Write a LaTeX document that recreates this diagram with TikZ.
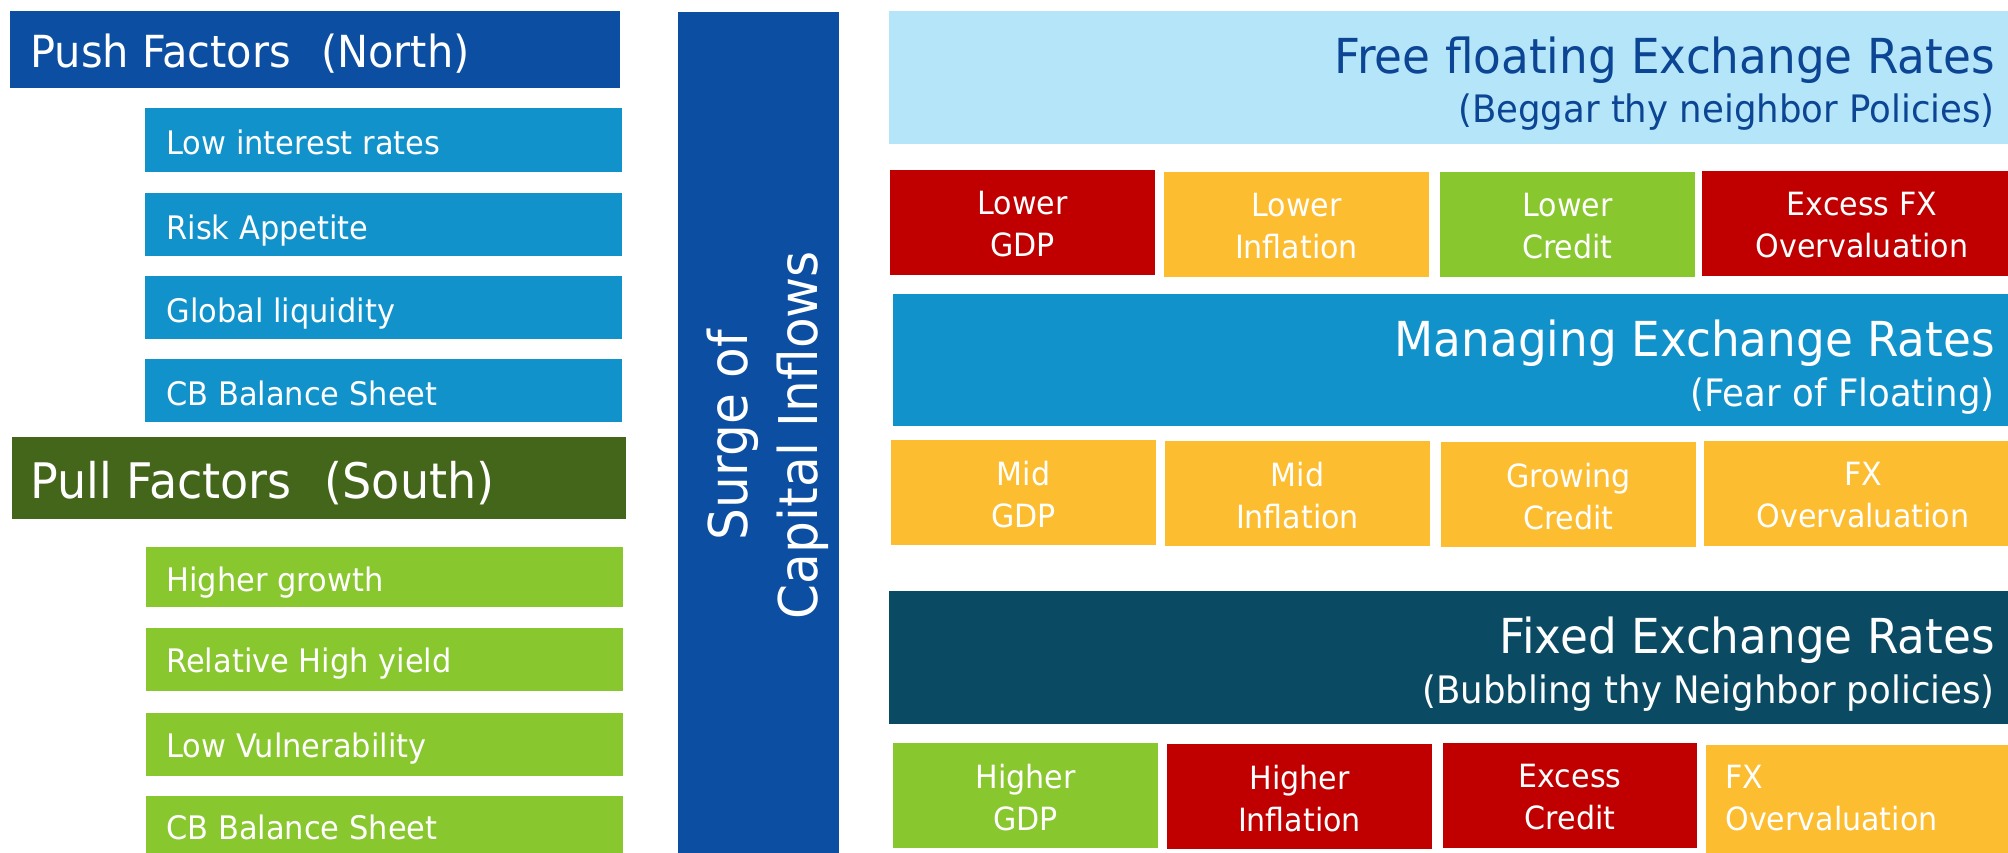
\documentclass[tikz,border=0pt]{standalone}
\usepackage{fontspec}
\setmainfont{DejaVu Sans}[FakeStretch=0.94]
\usetikzlibrary{fit}

\definecolor{cNavy}{HTML}{0B4EA2}
\definecolor{cSky}{HTML}{1192CB}
\definecolor{cOlive}{HTML}{44661A}
\definecolor{cLime}{HTML}{88C72E}
\definecolor{cPale}{HTML}{B5E5F8}
\definecolor{cInk}{HTML}{0B4594}
\definecolor{cTeal}{HTML}{0A4A63}
\definecolor{cRed}{HTML}{C00000}
\definecolor{cAmber}{HTML}{FDBD30}

\tikzset{
  panel/.style={inner sep=0pt, outer sep=0pt, draw=none},
  hdrtxt/.style={anchor=base west, inner sep=0pt, text=white},
  itemtxt/.style={anchor=base west, inner sep=0pt, text=white, font=\fontsize{16.2}{20}\selectfont},
  titletxt/.style={anchor=base east, inner sep=0pt, text=white, font=\fontsize{24.1}{29}\selectfont},
  subtxt/.style={anchor=base east, inner sep=0pt, text=white, font=\fontsize{18.9}{23}\selectfont},
  celltxt/.style={inner sep=0pt, text=white, align=center, font=\fontsize{16}{21}\selectfont},
}

\begin{document}
\begin{tikzpicture}[x=0.5pt, y=-0.5pt]
\clip (0,0) rectangle (2008,852);
\fill[white] (0,0) rectangle (2008,852);

% ---- push factors (north)
\node[panel, fill=cNavy, fit={(10,11) (620,88)}] (push) {};
\node[hdrtxt, font=\fontsize{22.1}{27}\selectfont] (pushT) at (30,67) {Push Factors\hspace{15pt}(North)};
\node[panel, fill=cSky, fit={(145,108) (622,172)}] (lowint) {};
\node[panel, fill=cSky, fit={(145,193) (622,256)}] (risk) {};
\node[panel, fill=cSky, fit={(145,276) (622,339)}] (liq) {};
\node[panel, fill=cSky, fit={(145,359) (622,422)}] (cbn) {};
\node[itemtxt] (lowintT) at (166,154) {Low interest rates};
\node[itemtxt] (riskT) at (166,239) {Risk Appetite};
\node[itemtxt] (liqT) at (166,322) {Global liquidity};
\node[itemtxt] (cbnT) at (166,405) {CB Balance Sheet};

% ---- pull factors (south)
\node[panel, fill=cOlive, fit={(12,437) (626,519)}] (pull) {};
\node[hdrtxt, font=\fontsize{24.5}{29}\selectfont] (pullT) at (30,498) {Pull Factors\hspace{16.5pt}(South)};
\node[panel, fill=cLime, fit={(146,547) (623,607)}] (growth) {};
\node[panel, fill=cLime, fit={(146,628) (623,691)}] (yield) {};
\node[panel, fill=cLime, fit={(146,713) (623,776)}] (vuln) {};
\node[panel, fill=cLime, fit={(146,796) (623,870)}] (cbs) {};
\node[itemtxt] (growthT) at (166,591) {Higher growth};
\node[itemtxt] (yieldT) at (166,672) {Relative High yield};
\node[itemtxt] (vulnT) at (166,757) {Low Vulnerability};
\node[itemtxt] (cbsT) at (166,839) {CB Balance Sheet};

% ---- central bar
\node[panel, fill=cNavy, fit={(678,12) (839,870)}] (surge) {};
\node[inner sep=0pt, text=white, align=center, rotate=90,
      font=\fontsize{26.7}{35}\selectfont] (surgeT) at (768,435) {Surge of\\Capital Inflows};

% ---- free floating regime
\node[panel, fill=cPale, fit={(889,11) (2020,144)}] (free) {};
\node[titletxt, text=cInk] (freeT) at (1995,73) {Free floating Exchange Rates};
\node[subtxt, text=cInk] (freeS) at (1995,122) {(Beggar thy neighbor Policies)};
\node[panel, fill=cRed,   fit={(890,170) (1155,275)}] (gdpA) {};
\node[panel, fill=cAmber, fit={(1164,172) (1429,277)}] (infA) {};
\node[panel, fill=cLime,  fit={(1440,172) (1695,277)}] (crdA) {};
\node[panel, fill=cRed,   fit={(1702,171) (2022,276)}] (fxA) {};
\node[celltxt] (gdpAT) at ([yshift=-1pt]gdpA.center) {Lower\\GDP};
\node[celltxt] (infAT) at ([yshift=-1pt]infA.center) {Lower\\Inflation};
\node[celltxt] (crdAT) at ([yshift=-1pt]crdA.center) {Lower\\Credit};
\node[celltxt] (fxAT) at ([yshift=-1pt]fxA.center) {Excess FX\\Overvaluation};

% ---- managed regime
\node[panel, fill=cSky, fit={(893,294) (2020,426)}] (manage) {};
\node[titletxt] (manageT) at (1995,356) {Managing Exchange Rates};
\node[subtxt] (manageS) at (1995,406) {(Fear of Floating)};
\node[panel, fill=cAmber, fit={(891,440) (1156,545)}] (gdpB) {};
\node[panel, fill=cAmber, fit={(1165,441) (1430,546)}] (infB) {};
\node[panel, fill=cAmber, fit={(1441,442) (1696,547)}] (crdB) {};
\node[panel, fill=cAmber, fit={(1704,441) (2022,546)}] (fxB) {};
\node[celltxt] (gdpBT) at ([yshift=-1pt]gdpB.center) {Mid\\GDP};
\node[celltxt] (infBT) at ([yshift=-1pt]infB.center) {Mid\\Inflation};
\node[celltxt] (crdBT) at ([yshift=-1pt]crdB.center) {Growing\\Credit};
\node[celltxt] (fxBT) at ([yshift=-1pt]fxB.center) {FX\\Overvaluation};

% ---- fixed regime
\node[panel, fill=cTeal, fit={(889,591) (2020,724)}] (fixed) {};
\node[titletxt] (fixedT) at (1995,653) {Fixed Exchange Rates};
\node[subtxt] (fixedS) at (1995,703) {(Bubbling thy Neighbor policies)};
\node[panel, fill=cLime,  fit={(893,743) (1158,848)}] (gdpC) {};
\node[panel, fill=cRed,   fit={(1167,744) (1432,849)}] (infC) {};
\node[panel, fill=cRed,   fit={(1443,743) (1697,848)}] (crdC) {};
\node[panel, fill=cAmber, fit={(1706,745) (2022,860)}] (fxC) {};
\node[celltxt] (gdpCT) at ([yshift=-1pt]gdpC.center) {Higher\\GDP};
\node[celltxt] (infCT) at ([yshift=-1pt]infC.center) {Higher\\Inflation};
\node[celltxt] (crdCT) at ([yshift=-1pt]crdC.center) {Excess\\Credit};
\node[celltxt, align=left, anchor=west] (fxCT) at (1725,798) {FX\\Overvaluation};
\end{tikzpicture}
\end{document}
